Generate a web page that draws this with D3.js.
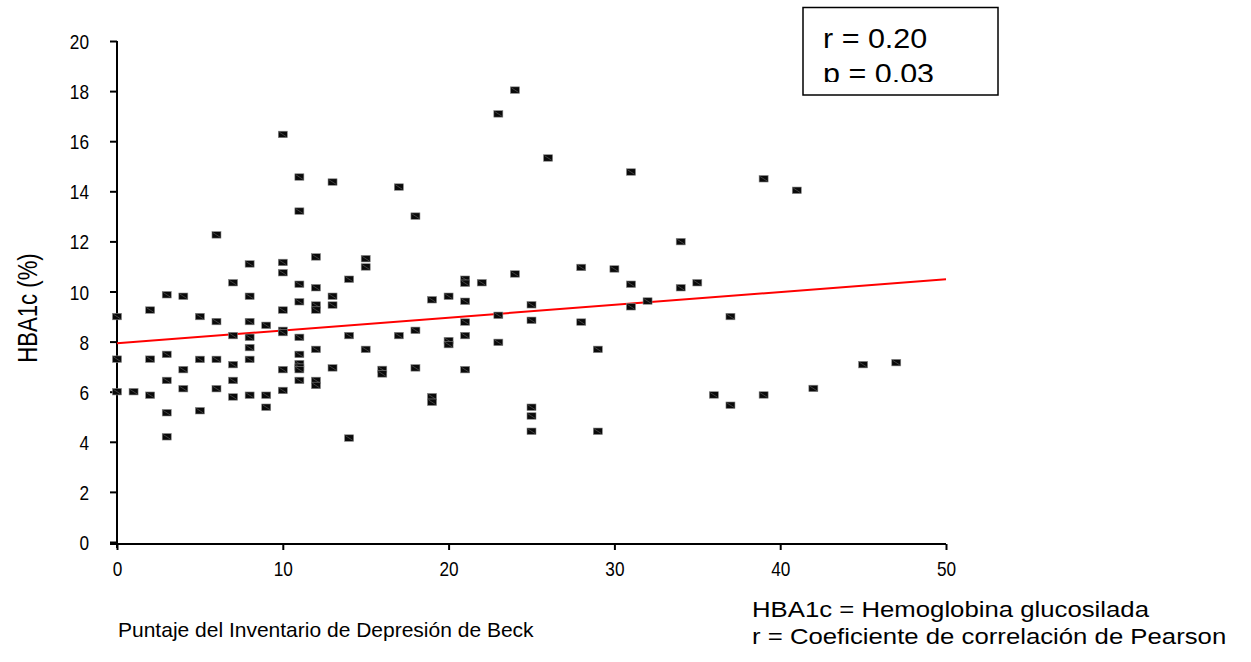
<!DOCTYPE html>
<html lang="es">
<head>
<meta charset="UTF-8">
<title>HBA1c vs Beck</title>
<style>
  body, html { margin: 0; padding: 0; background: #fff; }
  #svg { display: block; }
  .arial { font-family: "Liberation Sans", Arial, sans-serif; }
</style>
</head>
<body>
<svg id="svg" width="1251" height="662"></svg>
<script src="https://d3js.org/d3.v7.min.js"></script>
<script>
// ----- DATA ----------
// Beck score (x) and HBA1c % (y)
const beckScores = [
  0, 0, 0,
  1,
  2, 2, 2,
  3, 3, 3, 3, 3,
  4, 4, 4,
  5, 5, 5,
  6, 6, 6, 6,
  7, 7, 7, 7, 7,
  8, 8, 8, 8, 8, 8, 8,
  9, 9, 9,
  10, 10, 10, 10, 10, 10, 10, 10,
  11, 11, 11, 11, 11, 11, 11, 11, 11, 11,
  12, 12, 12, 12, 12, 12, 12,
  13, 13, 13, 13,
  14, 14, 14,
  15, 15, 15,
  16, 16,
  17, 17,
  18, 18, 18,
  19, 19, 19,
  20, 20, 20,
  21, 21, 21, 21, 21, 21,
  22,
  23, 23, 23,
  24, 24,
  25, 25, 25, 25, 25,
  26,
  28, 28,
  29, 29,
  30,
  31, 31, 31,
  32,
  34, 34,
  35,
  36,
  37, 37,
  39, 39,
  41,
  42,
  45,
  47
]
const hba1cValues = [
  9.0, 7.3, 6.0,
  6.0,
  9.26, 7.3, 5.86,
  9.87, 7.49, 6.45, 5.16, 4.2,
  9.81, 6.88, 6.12,
  9.0, 7.29, 5.24,
  12.26, 8.8, 7.29, 6.12,
  10.35, 8.24, 7.08, 6.45, 5.79,
  11.1, 9.81, 8.8, 8.17, 7.76, 7.29, 5.86,
  8.65, 5.86, 5.38,
  16.27, 11.16, 10.75, 9.26, 8.45, 8.36, 6.88, 6.05,
  14.57, 13.21, 10.29, 9.59, 8.17, 7.49, 7.12, 6.98, 6.88, 6.45,
  11.38, 10.15, 9.46, 9.26, 7.69, 6.45, 6.25,
  14.37, 9.81, 9.46, 6.95,
  10.49, 8.24, 4.15,
  11.31, 10.98, 7.69,
  6.89, 6.71,
  14.17, 8.24,
  13.01, 8.45, 6.95,
  9.67, 5.8, 5.58,
  9.81, 8.04, 7.88,
  10.49, 10.33, 9.61, 8.78, 8.24, 6.88,
  10.35,
  17.09, 9.05, 7.97,
  18.04, 10.7,
  9.47, 8.85, 5.38, 5.03, 4.42,
  15.33,
  10.96, 8.78,
  7.69, 4.42,
  10.9,
  14.77, 10.29, 9.39,
  9.62,
  11.99, 10.15,
  10.35,
  5.87,
  9.0, 5.46,
  14.5, 5.87,
  14.04,
  6.13,
  7.08,
  7.16
]
const xTicks = [0, 10, 20, 30, 40, 50]
const yTicks = [0, 2, 4, 6, 8, 10, 12, 14, 16, 18, 20]
// fitted line: value at x = 0 and at x = 50
const trendEnds = [[0, 7.93], [50, 10.49]]
const statLines = ['r = 0.20', 'p = 0.03']
const noteLines = ['HBA1c = Hemoglobina glucosilada', 'r = Coeficiente de correlación de Pearson']
const xTitle = 'Puntaje del Inventario de Depresión de Beck'
const yTitle = 'HBA1c (%)'

const points = beckScores.map((s, i) => ({ x: s, y: hba1cValues[i] }))

// narrow font is not installed, so squeeze Liberation Sans instead
const narrow = 0.82

// -------- SCALES ------------
const xScale = d3.scaleLinear().domain([0, 50]).range([117, 946])
const yScale = d3.scaleLinear().domain([0, 20]).range([542, 41])

const svg = d3.select('#svg')

// -------- AXES ------------
const leftAxis = d3.axisLeft(yScale)
  .tickValues(yTicks)
  .tickSize(7)
  .tickPadding(21)
  .tickSizeOuter(0)
const yAxisG = svg.append('g')
  .attr('transform', 'translate(117, 0)')
  .call(leftAxis)
yAxisG.select('.domain').remove()
yAxisG.append('line')
  .attr('x1', 0).attr('x2', 0)
  .attr('y1', yScale(20)).attr('y2', 548)
  .attr('stroke', '#000').attr('stroke-width', 2)
yAxisG.selectAll('.tick line').attr('stroke', '#000').attr('stroke-width', 2)
yAxisG.selectAll('.tick text')
  .attr('class', 'arial')
  .attr('x', -28 / narrow)
  .attr('dy', '0.36em')
  .attr('transform', `scale(${narrow},1)`)
  .style('font-size', '21px')
  .attr('fill', '#000')

const bottomAxis = d3.axisBottom(xScale)
  .tickValues(xTicks)
  .tickSize(6)
  .tickPadding(11)
  .tickSizeOuter(0)
const xAxisG = svg.append('g')
  .attr('transform', 'translate(0, 544)')
  .call(bottomAxis)
xAxisG.select('.domain').remove()
xAxisG.append('line')
  .attr('x1', 110).attr('x2', xScale(50))
  .attr('y1', 0).attr('y2', 0)
  .attr('stroke', '#000').attr('stroke-width', 2)
xAxisG.selectAll('.tick line').attr('stroke', '#000').attr('stroke-width', 2)
xAxisG.selectAll('.tick text')
  .attr('class', 'arial')
  .attr('transform', `scale(${narrow},1)`)
  .style('font-size', '21px')
  .attr('fill', '#000')

// -------- TREND LINE ------------
svg.append('path')
  .datum(trendEnds)
  .attr('d', d3.line().x(d => xScale(d[0])).y(d => yScale(d[1])))
  .attr('stroke', '#ff0000')
  .attr('stroke-width', 2)
  .attr('fill', 'none')

// -------- MARKERS ------------
const mw = 9, mh = 6.5
const marks = svg.append('g').selectAll('g')
  .data(points)
  .enter()
  .append('g')
  .attr('transform', d => `translate(${xScale(d.x) - mw / 2}, ${yScale(d.y) - mh / 2})`)
marks.append('rect')
  .attr('width', mw).attr('height', mh)
  .attr('fill', '#0a0a0a')
  .attr('stroke', '#888').attr('stroke-width', 0.6)
marks.append('line')
  .attr('x1', 1).attr('y1', 1).attr('x2', mw - 1).attr('y2', mh - 1)
  .attr('stroke', '#666').attr('stroke-width', 0.6)

// -------- TITLES ------------
svg.append('text')
  .attr('class', 'arial')
  .attr('x', 118).attr('y', 637)
  .style('font-size', '21px')
  .text(xTitle)

svg.append('text')
  .attr('class', 'arial')
  .attr('transform', `translate(37, 308) rotate(-90) scale(${narrow},1)`)
  .attr('text-anchor', 'middle')
  .style('font-size', '27px')
  .text(yTitle)

// -------- STATS BOX ------------
svg.append('clipPath').attr('id', 'boxclip')
  .append('rect').attr('x', 803).attr('y', 7).attr('width', 195).attr('height', 75)
svg.append('rect')
  .attr('x', 803).attr('y', 7.5).attr('width', 195).attr('height', 87.5)
  .attr('fill', '#fff').attr('stroke', '#000').attr('stroke-width', 1.5)
svg.append('g').attr('clip-path', 'url(#boxclip)')
  .selectAll('text')
  .data(statLines)
  .enter()
  .append('text')
  .attr('class', 'arial')
  .attr('transform', (d, i) => `translate(823, ${48 + i * 34.5}) scale(1.09,1)`)
  .style('font-size', '28px')
  .text(d => d)

// -------- NOTES ------------
svg.append('g').selectAll('text')
  .data(noteLines)
  .enter()
  .append('text')
  .attr('class', 'arial')
  .attr('transform', (d, i) => `translate(752, ${617 + i * 26.5}) scale(1.17,1)`)
  .style('font-size', '22px')
  .text(d => d)
</script>
</body>
</html>
